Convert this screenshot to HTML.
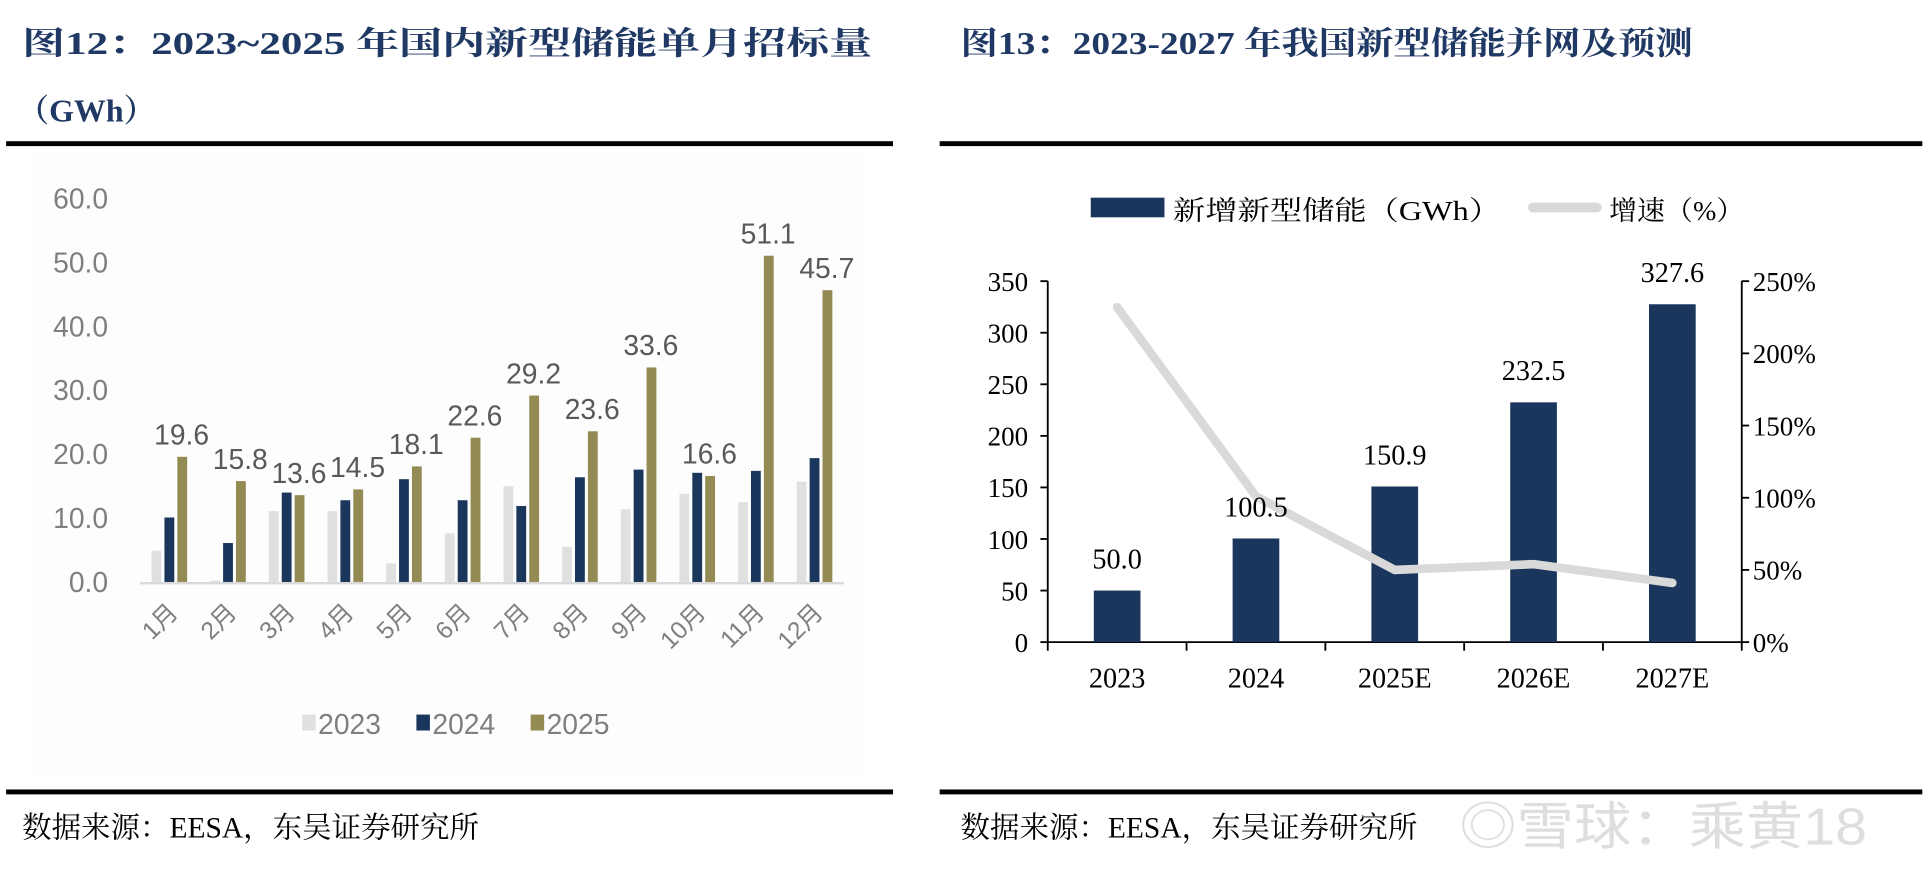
<!DOCTYPE html>
<html><head><meta charset="utf-8"><style>
html,body{margin:0;padding:0;background:#fff;}
svg{display:block;}
.serif{font-family:"Liberation Serif","Noto Serif CJK SC",serif;}
.sans{font-family:"Liberation Sans","Noto Sans CJK SC",sans-serif;}
</style></head><body>
<svg id="root" width="1926" height="884" viewBox="0 0 1568 720" preserveAspectRatio="none" xmlns="http://www.w3.org/2000/svg">
  <rect x="0" y="0" width="1568" height="720" fill="#fff"/>
  <g>
    <text class="serif" x="18" y="44" font-size="26" font-weight="bold" fill="#1f3864" textLength="692" lengthAdjust="spacingAndGlyphs">图12：2023~2025 年国内新型储能单月招标量</text>
    <text class="serif" x="14" y="99" font-size="26" font-weight="bold" fill="#1f3864">（GWh）</text>
    <rect x="5" y="115" width="722" height="4" fill="#000"/>
    <rect x="25" y="124" width="680" height="508" fill="#fdfdfd"/>
    <g id="chart12"></g>
    <rect x="5" y="643" width="722" height="4" fill="#000"/>
    <text class="serif" x="18" y="682" font-size="24" fill="#000">数据来源：EESA，东吴证券研究所</text>
  </g>
  <g>
    <text class="serif" x="782" y="44" font-size="26" font-weight="bold" fill="#1f3864" textLength="596" lengthAdjust="spacingAndGlyphs">图13：2023-2027 年我国新型储能并网及预测</text>
    <rect x="765" y="115" width="800" height="4" fill="#000"/>
    <g id="chart13"></g>
    <rect x="765" y="643" width="800" height="4" fill="#000"/>
    <text class="serif" x="782" y="682" font-size="24" fill="#000">数据来源：EESA，东吴证券研究所</text>
    <text class="sans" x="1188" y="688" font-size="42" fill="#d8d8d8" fill-opacity="0.85" textLength="332" lengthAdjust="spacingAndGlyphs">◎雪球：乘黄18</text>
  </g>
</svg>
<script>
const NS = "http://www.w3.org/2000/svg";
const months = ["1月","2月","3月","4月","5月","6月","7月","8月","9月","10月","11月","12月"];
const s2023 = [4.9,0.2,11.1,11.1,2.9,7.6,15.0,5.5,11.4,13.8,12.5,15.7];
const s2024 = [10.1,6.1,14.0,12.8,16.1,12.8,11.9,16.4,17.6,17.1,17.4,19.4];
const s2025 = [19.6,15.8,13.6,14.5,18.1,22.6,29.2,23.6,33.6,16.6,51.1,45.7];
const yTicks12 = [0,10,20,30,40,50,60];
const seriesNames12 = ["2023","2024","2025"];
const years = ["2023","2024","2025E","2026E","2027E"];
const added = [50.0,100.5,150.9,232.5,327.6];
const growth = [232,101,50,54,41];
const yTicksL = [0,50,100,150,200,250,300,350];
const yTicksR = [0,50,100,150,200,250];

function el(tag, attrs, parent, text){
  const e = document.createElementNS(NS, tag);
  for (const k in attrs) e.setAttribute(k, attrs[k]);
  if (text !== undefined) e.textContent = text;
  parent.appendChild(e);
  return e;
}

(function(){
  const g = document.getElementById('chart12');
  const x0 = 114, x1 = 687, base = 474, top = 162, ymax = 60;
  const y = v => base - (v / ymax) * (base - top);
  const cw = (x1 - x0) / months.length;
  const colors = ["#e0e0e0","#1a365d","#948a54"];
  const series = [s2023, s2024, s2025];
  yTicks12.forEach(t => {
    const tx = el('text', {x: 88, y: y(t) + 8, 'font-size': 23, fill: '#7f7f7f', 'text-anchor': 'end', class: 'sans'}, g, t.toFixed(1));
    
    
  });
  const ax = el('line', {x1: x0, x2: x1, y1: base + 1, y2: base + 1, stroke: '#d9d9d9', 'stroke-width': 2}, g);
  
  
  months.forEach((m, i) => {
    const cx = x0 + cw * (i + 0.5);
    series.forEach((s, j) => {
      const bx = cx - 14.5 + j * 10.5;
      const r = el('rect', {x: bx, y: y(s[i]), width: 8, height: base - y(s[i]), fill: colors[j]}, g);
      
      
    });
    const lbl = el('text', {x: cx + 10, y: y(s2025[i]) - 10, 'font-size': 23, fill: '#595959', 'text-anchor': 'middle', class: 'sans'}, g, s2025[i].toFixed(1));
    
    
    const xl = el('text', {x: 0, y: 0, 'font-size': 20, fill: '#7f7f7f', 'text-anchor': 'end', class: 'sans', transform: `translate(${cx + 8},${base + 26}) rotate(-45)`}, g, m);
    
    
  });
  let lx = 246;
  seriesNames12.forEach((n, j) => {
    const sq = el('rect', {x: lx, y: 582, width: 11, height: 13, fill: colors[j]}, g);
    
    
    const t = el('text', {x: lx + 13, y: 598, 'font-size': 23, fill: '#7f7f7f', class: 'sans'}, g, n);
    
    
    lx += 93;
  });
})();

(function(){
  const g = document.getElementById('chart13');
  const xL = 853, xR = 1418, base = 523, top = 229;
  const yL = v => base - (v / 350) * (base - top);
  const yR = v => base - (v / 250) * (base - top);
  const cw = (xR - xL) / years.length;
  const lr = el('rect', {x: 888, y: 161, width: 60, height: 16, fill: '#1a365d'}, g);
  
  
  const lt = el('text', {x: 955, y: 179, 'font-size': 22, fill: '#000', class: 'serif', textLength: 267, lengthAdjust: 'spacingAndGlyphs'}, g, '新增新型储能（GWh）');
  
  
  const ll = el('line', {x1: 1248, x2: 1300, y1: 169, y2: 169, stroke: '#d9d9d9', 'stroke-width': 8, 'stroke-linecap': 'round'}, g);
  
  
  const lt2 = el('text', {x: 1310, y: 179, 'font-size': 22, fill: '#000', class: 'serif', textLength: 110, lengthAdjust: 'spacingAndGlyphs'}, g, '增速（%）');
  
  
  const a1 = el('line', {x1: xL, x2: xL, y1: top, y2: base, stroke: '#000', 'stroke-width': 1.5}, g);
  
  
  const a2 = el('line', {x1: xR, x2: xR, y1: top, y2: base, stroke: '#000', 'stroke-width': 1.5}, g);
  
  
  const a3 = el('line', {x1: xL, x2: xR, y1: base, y2: base, stroke: '#000', 'stroke-width': 1.5}, g);
  
  
  yTicksL.forEach(t => {
    el('line', {x1: xL - 6, x2: xL, y1: yL(t), y2: yL(t), stroke: '#000', 'stroke-width': 1.5}, g);
    const tx = el('text', {x: 837, y: yL(t) + 8, 'font-size': 22, fill: '#000', 'text-anchor': 'end', class: 'serif'}, g, String(t));
    
    
  });
  yTicksR.forEach(t => {
    el('line', {x1: xR, x2: xR + 6, y1: yR(t), y2: yR(t), stroke: '#000', 'stroke-width': 1.5}, g);
    const tx = el('text', {x: 1427, y: yR(t) + 8, 'font-size': 22, fill: '#000', class: 'serif'}, g, t + '%');
    
    
  });
  for (let i = 0; i <= years.length; i++) {
    el('line', {x1: xL + cw * i, x2: xL + cw * i, y1: base, y2: base + 7, stroke: '#000', 'stroke-width': 1.5}, g);
  }
  const pts = [];
  years.forEach((yr, i) => {
    const cx = xL + cw * (i + 0.5);
    const b = el('rect', {x: cx - 19, y: yL(added[i]), width: 38, height: base - yL(added[i]), fill: '#1a365d'}, g);
    
    
    const v = el('text', {x: cx, y: yL(added[i]) - 18, 'font-size': 23, fill: '#000', 'text-anchor': 'middle', class: 'serif'}, g, added[i].toFixed(1));
    
    
    const xl = el('text', {x: cx, y: 560, 'font-size': 23, fill: '#000', 'text-anchor': 'middle', class: 'serif'}, g, yr);
    
    
    pts.push(cx + ',' + yR(growth[i]));
  });
  const line = el('polyline', {points: pts.join(' '), fill: 'none', stroke: '#d9d9d9', 'stroke-width': 7, 'stroke-linejoin': 'round', 'stroke-linecap': 'round'}, g);
  
  
  g.querySelectorAll('text').forEach(t => g.appendChild(t));
})();
</script>
</body></html>
